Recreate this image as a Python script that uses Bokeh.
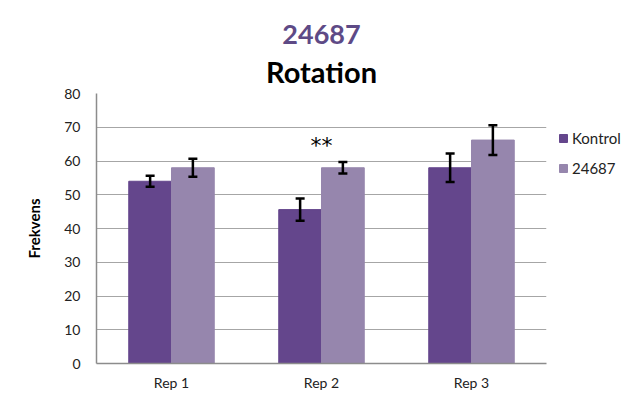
from bokeh.plotting import figure
from bokeh.models import ColumnDataSource, Whisker, TeeHead, Title, Legend, LegendItem, FactorRange
from bokeh.transform import dodge
from bokeh.core.properties import value
from bokeh.embed import file_html
from bokeh.resources import INLINE

categories = ["Rep 1", "Rep 2", "Rep 3"]
kontrol = [54.0, 45.6, 58.0]
kontrol_err = [1.6, 3.3, 4.2]
treated = [58.0, 58.0, 66.2]
treated_err = [2.7, 1.7, 4.4]
sig_marks = ["", "**", ""]
series_names = ["Kontrol", "24687"]
y_ticks = [0, 10, 20, 30, 40, 50, 60, 70, 80]

FONT = "Lato"
C_K = "#64468c"
C_T = "#9686ad"

src = ColumnDataSource(dict(
    cat=categories,
    k=kontrol,
    k_lo=[v - e for v, e in zip(kontrol, kontrol_err)],
    k_hi=[v + e for v, e in zip(kontrol, kontrol_err)],
    t=treated,
    t_lo=[v - e for v, e in zip(treated, treated_err)],
    t_hi=[v + e for v, e in zip(treated, treated_err)],
    sig=sig_marks,
    sig_y=[v + e + 5 for v, e in zip(treated, treated_err)],
))

p = figure(x_range=FactorRange(*categories, range_padding=0), y_range=(0, 80),
           frame_width=450, frame_height=270, output_backend="svg", toolbar_location=None,
           min_border_left=96, min_border_right=10, min_border_top=93, min_border_bottom=10)

bw = 0.285
r1 = p.vbar(x=dodge("cat", -bw / 2, range=p.x_range), top="k", width=bw, source=src,
            fill_color=C_K, line_color=C_K)
r2 = p.vbar(x=dodge("cat", bw / 2, range=p.x_range), top="t", width=bw, source=src,
            fill_color=C_T, line_color=C_T)

for lo, hi, off in (("k_lo", "k_hi", -bw / 2), ("t_lo", "t_hi", bw / 2)):
    w = Whisker(base=dodge("cat", off, range=p.x_range), lower=lo, upper=hi, source=src,
                line_color="black", line_width=2.5, level="overlay",
                upper_head=TeeHead(size=9, line_color="black", line_width=2.5),
                lower_head=TeeHead(size=9, line_color="black", line_width=2.5))
    p.add_layout(w)

p.text(x="cat", y="sig_y", text="sig", source=src, text_align="center",
       text_baseline="middle", text_font=value("DejaVu Sans"), text_font_size="22px",
       text_color="black")

# titles (first added sits closest to the plot)
p.add_layout(Title(text="Rotation", align="center", text_font=FONT, text_font_size="29px",
                   text_font_style="bold", text_color="black", standoff=10), "above")
p.add_layout(Title(text="24687", align="center", text_font=FONT, text_font_size="27px",
                   text_font_style="bold", text_color="#5e4a86", standoff=5), "above")

# axes
p.yaxis.ticker = y_ticks
p.yaxis.axis_label = "Frekvens"
p.yaxis.axis_label_text_font = FONT
p.yaxis.axis_label_text_font_size = "15px"
p.yaxis.axis_label_text_font_style = "bold"
p.yaxis.axis_label_text_color = "black"
p.yaxis.axis_label_standoff = 18
for ax in (p.xaxis[0], p.yaxis[0]):
    ax.major_label_text_font = FONT
    ax.major_label_text_font_size = "14px"
    ax.major_label_text_color = "#222222"
    ax.axis_line_color = "#8c8c8c"
    ax.axis_line_width = 1.5
    ax.major_tick_line_color = None
    ax.minor_tick_line_color = None
p.yaxis.major_label_standoff = 10
p.xaxis.major_label_standoff = 4

p.xgrid.grid_line_color = None
p.ygrid.grid_line_color = "#a6a6a6"
p.ygrid.grid_line_width = 1.2
p.outline_line_color = None

legend = Legend(items=[LegendItem(label=series_names[0], renderers=[r1]),
                       LegendItem(label=series_names[1], renderers=[r2])],
                location=(12, 186), orientation="vertical",
                label_text_font=FONT, label_text_font_size="15px", label_text_color="#222222",
                glyph_width=10, glyph_height=10, spacing=12, padding=0, margin=0,
                label_standoff=4, border_line_color=None, background_fill_alpha=0)
p.add_layout(legend, "right")

open("out.html", "w").write(file_html(p, INLINE))
